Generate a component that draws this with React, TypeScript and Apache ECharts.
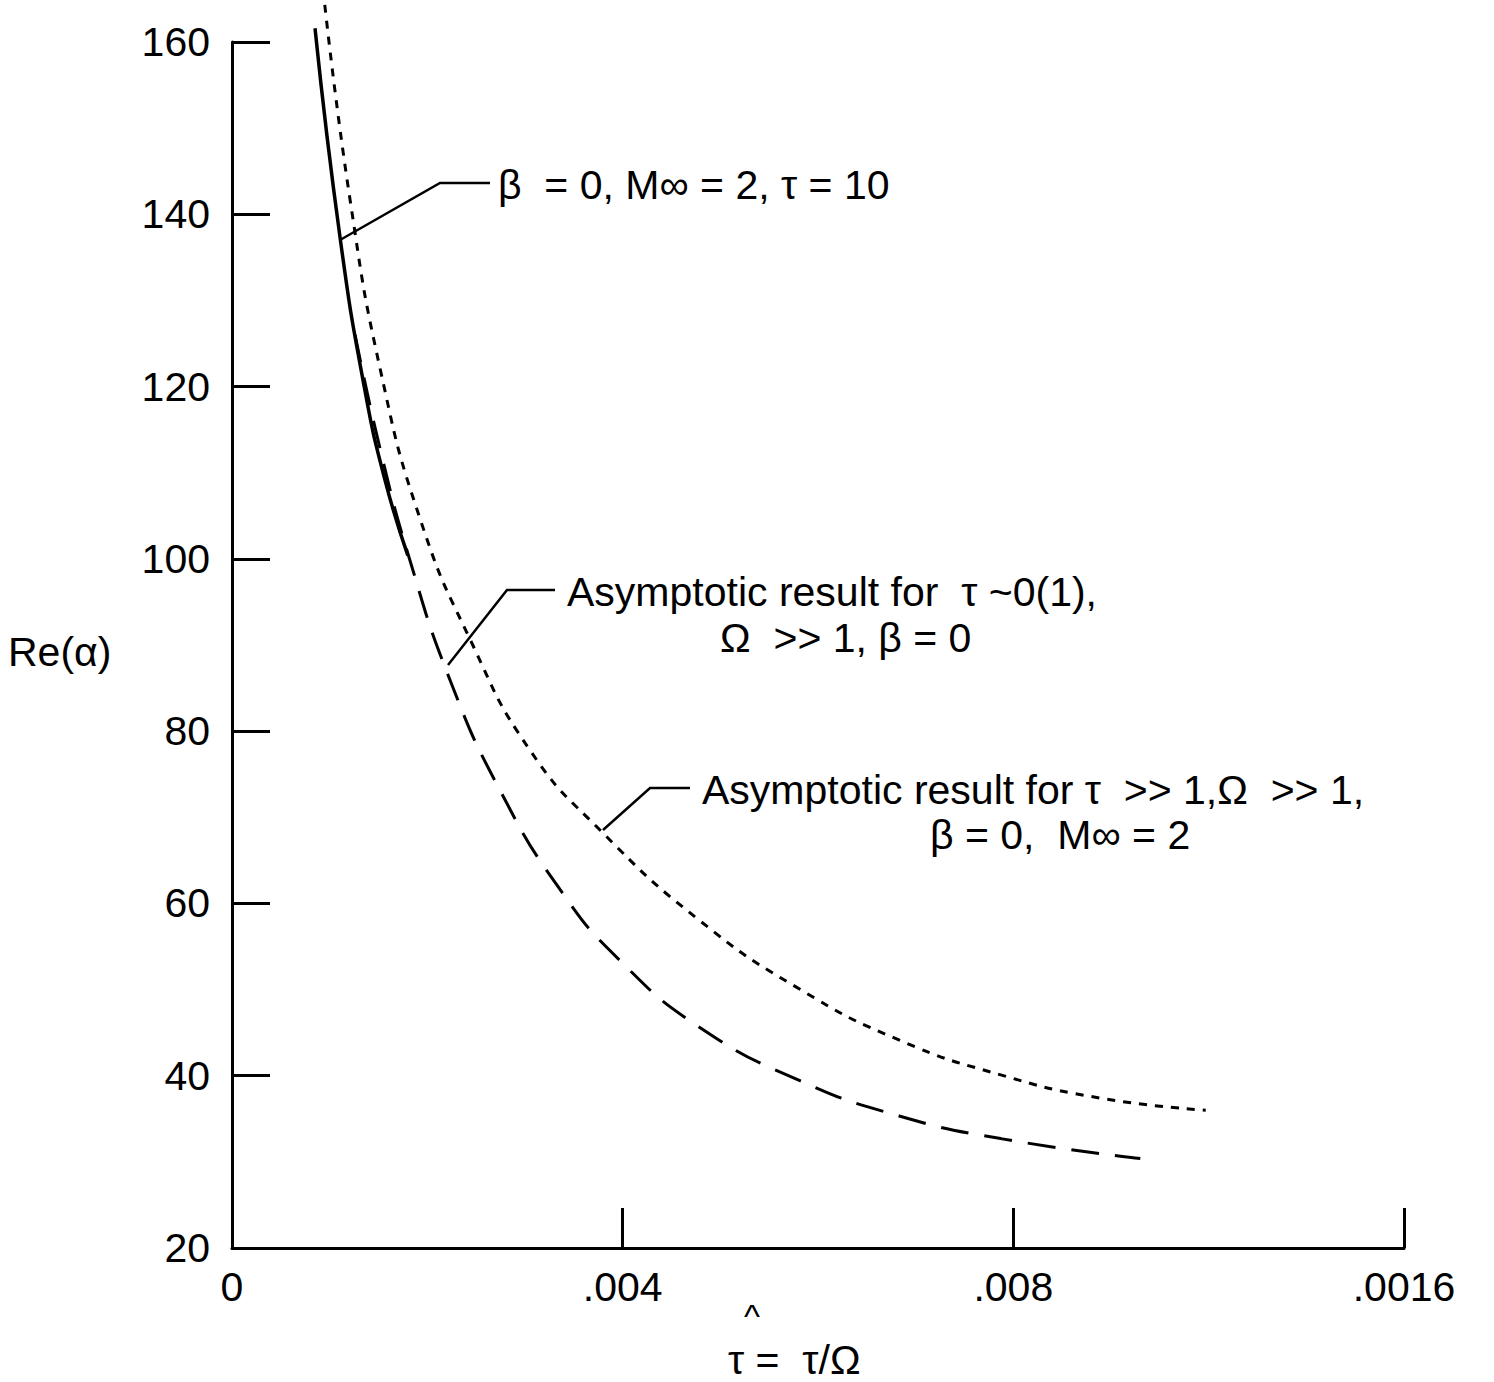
import React, { useEffect, useRef } from 'react';
import * as echarts from 'echarts';

const solidX = [0.00085, 0.00111, 0.00136, 0.00157, 0.0018];
const solidY = [161.6, 137, 119.6, 109, 100.4];
const dashX = [0.00126, 0.00152, 0.00182, 0.00223, 0.00275, 0.00336, 0.00397, 0.00479, 0.00582, 0.00684, 0.00787, 0.0093];
const dashY = [126, 112.6, 99.9, 86, 73, 61.6, 53.4, 45.6, 39.4, 35.3, 32.7, 30.4];
const dotX = [0.00095, 0.00121, 0.00152, 0.00193, 0.00244, 0.00305, 0.00377, 0.00479, 0.00582, 0.00684, 0.00787, 0.00889, 0.00997];
const dotY = [164.3, 141.6, 121.9, 104.5, 90.6, 77.8, 68.5, 58, 50, 44.1, 40.1, 37.4, 36];
const xTickLabels: Record<string, string> = { '0': '0', '0.004': '.004', '0.008': '.008', '0.012': '.0016' };

const font = '"Liberation Sans", Arial, sans-serif';
const zip = (xs: number[], ys: number[]) => xs.map((x, i) => [x, ys[i]]);

const App: React.FC = () => {
  const ref = useRef<HTMLDivElement>(null);

  useEffect(() => {
    if (!ref.current) return;
    const chart = echarts.init(ref.current, null, { renderer: 'svg' });
    const txt = (x: number, y: number, text: string, size = 41) => ({
      type: 'text', x, y, style: { text, font: `${size}px ${font}`, fill: '#000', textVerticalAlign: 'middle' },
    });
    const ln = (pts: number[][]) => ({
      type: 'polyline', shape: { points: pts }, style: { stroke: '#000', lineWidth: 2.5, fill: 'none' },
    });
    const line = (data: number[][], type: any, width: number) => ({
      type: 'line', data, smooth: true, showSymbol: false, clip: false,
      lineStyle: { color: '#000', width, type },
    });
    chart.setOption({
      animation: false,
      grid: { left: 232, top: 42, width: 1172, height: 1206 },
      xAxis: {
        type: 'value', min: 0, max: 0.012, interval: 0.004,
        axisLine: { lineStyle: { color: '#000', width: 3 } },
        axisTick: { inside: true, length: 40, lineStyle: { color: '#000', width: 3 } },
        splitLine: { show: false },
        axisLabel: { color: '#000', fontSize: 41, fontFamily: font, margin: 18,
          formatter: (v: number) => xTickLabels[String(+v.toFixed(3))] ?? '' },
      },
      yAxis: {
        type: 'value', min: 20, max: 160, interval: 20,
        axisLine: { show: true, lineStyle: { color: '#000', width: 3 } },
        axisTick: { show: true, inside: true, length: 38, lineStyle: { color: '#000', width: 3 } },
        splitLine: { show: false },
        axisLabel: { color: '#000', fontSize: 41, fontFamily: font, margin: 22 },
      },
      series: [
        line(zip(solidX, solidY), 'solid', 3.5),
        line(zip(dashX, dashY), [28, 16], 3),
        line(zip(dotX, dotY), [8, 8], 3),
      ],
      graphic: [
        txt(8, 652, 'Re(α)'),
        txt(744, 1316, '^', 34),
        txt(728, 1360, 'τ =  τ/Ω'),
        txt(498, 185, 'β  = 0, M∞ = 2, τ = 10'),
        ln([[340, 240], [440, 183], [490, 183]]),
        txt(567, 592, 'Asymptotic result for  τ ~0(1),'),
        txt(720, 638, 'Ω  >> 1, β = 0'),
        ln([[448, 665], [507, 590], [555, 590]]),
        txt(702, 790, 'Asymptotic result for τ  >> 1,Ω  >> 1,'),
        txt(930, 835, 'β = 0,  M∞ = 2'),
        ln([[603, 830], [650, 788], [690, 788]]),
      ],
    });
    return () => chart.dispose();
  }, []);

  return <div ref={ref} style={{ position: 'fixed', left: 0, top: 0, width: 1494, height: 1382, background: '#fff' }} />;
};

export default App;
